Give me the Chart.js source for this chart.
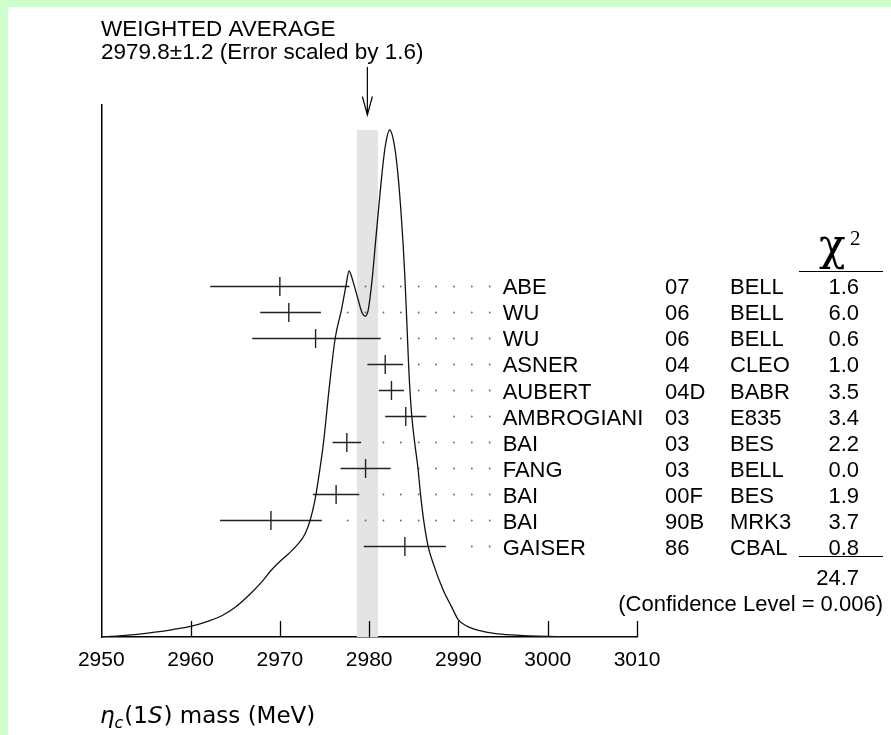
<!DOCTYPE html>
<html lang="en">
<head>
<meta charset="UTF-8">
<title>eta_c(1S) mass - weighted average</title>
<script src="https://cdn.jsdelivr.net/npm/chart.js"></script>
<style>
  html, body { margin: 0; padding: 0; width: 891px; height: 735px; overflow: hidden; background: #ccffcc; }
  .frame { position: absolute; left: 8px; top: 7px; width: 883px; height: 728px; background: #fff; }
  canvas { display: block; }
</style>
</head>
<body>
<div class="frame"><canvas id="massChart" width="883" height="728"></canvas></div>
<script>
  // measurements, top to bottom
  const names   = ['ABE', 'WU', 'WU', 'ASNER', 'AUBERT', 'AMBROGIANI', 'BAI', 'FANG', 'BAI', 'BAI', 'GAISER'];
  const years   = ['07', '06', '06', '04', '04D', '03', '03', '03', '00F', '90B', '86'];
  const collabs = ['BELL', 'BELL', 'BELL', 'CLEO', 'BABR', 'E835', 'BES', 'BELL', 'BES', 'MRK3', 'CBAL'];
  const chi2    = ['1.6', '6.0', '0.6', '1.0', '3.5', '3.4', '2.2', '0.0', '1.9', '3.7', '0.8'];
  const masses   = [2970.0, 2971.0, 2974.0, 2981.8, 2982.5, 2984.1, 2977.5, 2979.6, 2976.3, 2969.0, 2984.0];
  const errMinus = [7.8, 3.2, 7.1, 2.0, 1.4, 2.3, 1.6, 2.8, 2.6, 5.7, 4.6];
  const errPlus  = [7.8, 3.6, 7.3, 2.0, 1.4, 2.3, 1.6, 2.8, 2.6, 5.7, 4.6];

  const avgMass = 2979.8;
  const avgErr = 1.2;
  const errScale = 1.6;
  const chi2Total = '24.7';
  const confLevel = 0.006;

  // ideogram curve (mass, relative height)
  const curveX = [2950.0, 2952.0, 2954.0, 2956.0, 2958.0, 2960.0, 2962.0, 2963.5, 2965.0, 2966.5,
                  2968.0, 2969.0, 2970.0, 2971.0, 2972.0, 2972.8, 2973.4, 2973.9, 2974.3, 2974.9,
                  2975.5, 2976.2, 2976.9, 2977.4, 2977.75, 2978.2, 2978.8, 2979.2, 2979.55, 2979.9,
                  2980.2, 2980.45, 2980.7, 2981.05, 2981.4, 2981.8, 2982.3, 2982.85, 2983.25, 2983.55,
                  2983.8, 2984.0, 2984.2, 2984.45, 2984.75, 2985.1, 2985.45, 2985.75, 2986.1, 2986.6,
                  2987.2, 2988.3, 2989.2, 2990.0, 2991.0, 2992.4, 2994.0, 2996.0, 3000.0, 3005.0, 3010.0];
  const curveY = [0.000, 0.002, 0.005, 0.009, 0.014, 0.020, 0.030, 0.040, 0.056, 0.078,
                  0.104, 0.125, 0.142, 0.157, 0.174, 0.193, 0.220, 0.255, 0.295, 0.367,
                  0.464, 0.562, 0.615, 0.660, 0.688, 0.668, 0.632, 0.610, 0.603, 0.615,
                  0.652, 0.692, 0.740, 0.803, 0.865, 0.922, 0.953, 0.922, 0.865, 0.803,
                  0.740, 0.677, 0.600, 0.500, 0.420, 0.365, 0.320, 0.269, 0.220, 0.171,
                  0.137, 0.088, 0.058, 0.032, 0.020, 0.012, 0.007, 0.004, 0.001, 0.000, 0.000];

  // dotted leader positions (MeV)
  const dotGrid = [2977.6, 2979.6, 2981.6, 2983.55, 2985.55, 2987.5, 2989.5, 2991.5, 2993.5];
  const xTicks = [2950, 2960, 2970, 2980, 2990, 3000, 3010];

  const FONT = '"Liberation Sans", Arial, sans-serif';
  const bandTop = Math.max(...curveY);

  const datasets = [];

  // ideogram
  datasets.push({
    data: curveX.map((x, i) => ({ x: x, y: curveY[i] })),
    yAxisID: 'y', showLine: true, borderColor: '#111', borderWidth: 1.3,
    pointRadius: 0, cubicInterpolationMode: 'monotone', order: 1
  });

  // horizontal error bars
  masses.forEach((m, i) => {
    datasets.push({
      data: [{ x: m - errMinus[i], y: i }, { x: m + errPlus[i], y: i }],
      yAxisID: 'yRows', showLine: true, borderColor: '#222', borderWidth: 1.4,
      pointRadius: 0, order: 2
    });
  });

  // central value ticks
  datasets.push({
    data: masses.map((m, i) => ({ x: m, y: i })),
    yAxisID: 'yRows', pointStyle: 'line', rotation: 90, pointRadius: 9.5,
    borderColor: '#222', borderWidth: 1.4, order: 2
  });

  // leader dots
  const dots = [];
  masses.forEach((m, i) => {
    dotGrid.forEach(d => { if (d > m + errPlus[i] + 1.5) dots.push({ x: d, y: i }); });
  });
  datasets.push({
    data: dots, yAxisID: 'yRows', pointStyle: 'circle', pointRadius: 0.9,
    backgroundColor: '#666', borderWidth: 0, order: 3
  });

  // weighted average band
  datasets.push({
    data: [{ x: avgMass - avgErr, y: bandTop }, { x: avgMass + avgErr, y: bandTop }],
    yAxisID: 'y', showLine: true, fill: 'origin', backgroundColor: '#e4e4e4',
    borderWidth: 0, pointRadius: 0, order: 10
  });

  const overlay = {
    id: 'overlay',
    afterDraw(chart) {
      const { ctx, chartArea, scales: { x, yRows } } = chart;
      ctx.save();
      ctx.fillStyle = '#000';
      ctx.strokeStyle = '#000';
      ctx.textBaseline = 'alphabetic';

      // heading
      ctx.font = '22.5px ' + FONT;
      ctx.textAlign = 'left';
      ctx.fillText('WEIGHTED AVERAGE', 93, 29);
      ctx.fillText(avgMass.toFixed(1) + '\u00b1' + avgErr.toFixed(1) + ' (Error scaled by ' + errScale.toFixed(1) + ')', 93, 51.5);

      // arrow to the average
      const ax = x.getPixelForValue(avgMass);
      ctx.lineWidth = 1.2;
      ctx.beginPath();
      ctx.moveTo(ax, 60); ctx.lineTo(ax, 108);
      ctx.moveTo(ax - 5, 89.5); ctx.lineTo(ax, 108); ctx.lineTo(ax + 5, 89.5);
      ctx.stroke();

      // inward tick marks
      ctx.lineWidth = 1.3;
      ctx.beginPath();
      xTicks.slice(1).forEach(t => {
        const px = Math.round(x.getPixelForValue(t)) + 0.5;
        ctx.moveTo(px, chartArea.bottom); ctx.lineTo(px, chartArea.bottom - 16);
      });
      ctx.stroke();

      // table
      ctx.font = '22px ' + FONT;
      names.forEach((n, i) => {
        const by = yRows.getPixelForValue(i) + 8;
        ctx.textAlign = 'left';
        ctx.fillText(n, 494.7, by);
        ctx.fillText(years[i], 657, by);
        ctx.fillText(collabs[i], 722, by);
        ctx.textAlign = 'right';
        ctx.fillText(chi2[i], 851, by);
      });

      // chi2 header
      ctx.textAlign = 'left';
      ctx.font = '44px "DejaVu Serif", "Liberation Serif", serif';
      ctx.fillText('\u03c7', 811, 253);
      ctx.font = '21px "Liberation Serif", "Times New Roman", serif';
      ctx.fillText('2', 842, 238);
      ctx.lineWidth = 1.2;
      ctx.beginPath();
      ctx.moveTo(791, 264.5); ctx.lineTo(875, 264.5);
      ctx.moveTo(791, 549.5); ctx.lineTo(875, 549.5);
      ctx.stroke();

      ctx.font = '22px ' + FONT;
      ctx.textAlign = 'right';
      ctx.fillText(chi2Total, 851, 577.5);
      ctx.fillText('(Confidence Level = ' + confLevel.toFixed(3) + ')', 875, 604);

      // axis title: eta_c(1S) mass (MeV)
      const TF = '"DejaVu Sans", sans-serif';
      ctx.textAlign = 'left';
      let tx = 92;
      const ty = 716;
      ctx.font = 'italic 23px ' + TF;
      ctx.fillText('\u03b7', tx, ty); tx += ctx.measureText('\u03b7').width;
      ctx.font = 'italic 16px ' + TF;
      ctx.fillText('c', tx, ty + 5); tx += ctx.measureText('c').width + 1;
      ctx.font = '23px ' + TF;
      ctx.fillText('(1', tx, ty); tx += ctx.measureText('(1').width;
      ctx.font = 'italic 23px ' + TF;
      ctx.fillText('S', tx, ty); tx += ctx.measureText('S').width + 1;
      ctx.font = '23px ' + TF;
      ctx.fillText(') mass (MeV)', tx, ty);

      ctx.restore();
    }
  };

  new Chart(document.getElementById('massChart'), {
    type: 'scatter',
    data: { datasets: datasets },
    options: {
      responsive: false,
      animation: false,
      devicePixelRatio: 1,
      layout: { padding: { left: 93.3, top: 98, right: 254, bottom: 58 } },
      plugins: { legend: { display: false }, tooltip: { enabled: false } },
      scales: {
        x: {
          type: 'linear', min: 2950, max: 3010,
          afterBuildTicks: s => { s.ticks = xTicks.map(v => ({ value: v })); },
          afterFit: s => { s.height = 40; },
          grid: { display: false, drawTicks: false },
          border: { display: true, color: '#000', width: 1.5 },
          ticks: { padding: 11, color: '#000', font: { family: FONT, size: 21 }, callback: v => String(v), maxRotation: 0 }
        },
        y: {
          type: 'linear', min: 0, max: 1,
          afterFit: s => { s.width = 0; },
          grid: { display: false, drawTicks: false },
          border: { display: true, color: '#000', width: 1.5 },
          ticks: { display: false }
        },
        yRows: {
          type: 'linear', display: false, reverse: true, min: -6.98, max: 13.48
        }
      }
    },
    plugins: [overlay]
  });
</script>
</body>
</html>
